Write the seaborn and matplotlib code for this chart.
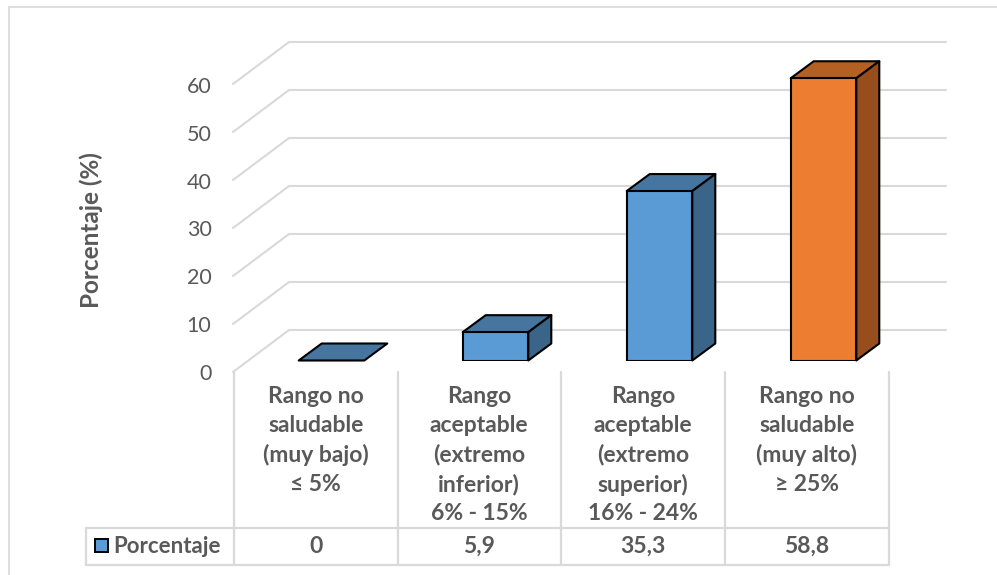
import matplotlib
matplotlib.use("Agg")
import matplotlib.pyplot as plt
import matplotlib.transforms as mtrans
from matplotlib.lines import Line2D
from matplotlib.patches import Polygon, Rectangle
import seaborn as sns

categories = [
    "Rango no\nsaludable\n(muy bajo)\n≤ 5%",
    "Rango\naceptable\n(extremo\ninferior)\n6% - 15%",
    "Rango\naceptable\n(extremo\nsuperior)\n16% - 24%",
    "Rango no\nsaludable\n(muy alto)\n≥ 25%",
]
values = [0, 5.9, 35.3, 58.8]
y_ticks = [0, 10, 20, 30, 40, 50, 60]
series_name = "Porcentaje"
y_title = "Porcentaje (%)"

W, H = 997, 575
TEXT = "#595959"
GRID = "#D9D9D9"
BLUE = ("#5B9BD5", "#46759F", "#3B6588")
ORANGE = ("#ED7D31", "#B46022", "#974E1C")
face_sets = [BLUE, BLUE, BLUE, ORANGE]

sns.set_theme(style="white")
plt.rcParams["font.family"] = ["Lato", "DejaVu Sans"]

fig = plt.figure(figsize=(W / 100, H / 100), dpi=100)
PX_PER_CAT, PX_PER_UNIT = 164.0, 4.8
ax_left, ax_right, ax_bottom, ax_top = 249.5, 905.5, 360.5, 40
ax = fig.add_axes([ax_left / W, 1 - ax_bottom / H, (ax_right - ax_left) / W, (ax_bottom - ax_top) / H])

sns.barplot(x=list(range(4)), y=values, hue=list(range(4)), palette=[f[0] for f in face_sets],
            legend=False, width=0.4, saturation=1, edgecolor="black", linewidth=1.5, ax=ax, zorder=3)
ax.set_xlim(-0.5, 3.5)
ax.set_ylim(0, (ax_bottom - ax_top) / PX_PER_UNIT)
sns.despine(ax=ax, left=True, bottom=True)
ax.patch.set_alpha(0)
ax.set_xlabel("")

# Oblique depth of the bars and of the floor, expressed in data units
dx, dy = 23 / PX_PER_CAT, 17 / PX_PER_UNIT
front_dx, front_dy = -16.5 / PX_PER_CAT, -11.5 / PX_PER_UNIT
back_dx, back_dy = 39.5 / PX_PER_CAT, 30.5 / PX_PER_UNIT
wall_end = 3.5 + 40.5 / PX_PER_CAT

# Receding gridlines: side wall then back wall
for v in y_ticks:
    ax.plot([-0.5 + front_dx, -0.5 + back_dx, wall_end],
            [v + front_dy, v + back_dy, v + back_dy],
            color=GRID, lw=1.5, clip_on=False, zorder=0.5, solid_joinstyle="miter")

# Top and side faces of each bar
for bar, faces in zip(ax.patches, face_sets):
    x0, w, h = bar.get_x(), bar.get_width(), bar.get_height()
    x1 = x0 + w
    top = [(x0, h), (x1, h), (x1 + dx, h + dy), (x0 + dx, h + dy)]
    ax.add_patch(Polygon(top, closed=True, facecolor=faces[1], edgecolor="black",
                         lw=1.5, zorder=3.5, clip_on=False, joinstyle="round"))
    if h > 0:
        side = [(x1, 0), (x1 + dx, dy), (x1 + dx, h + dy), (x1, h)]
        ax.add_patch(Polygon(side, closed=True, facecolor=faces[2], edgecolor="black",
                             lw=1.5, zorder=3.5, clip_on=False, joinstyle="round"))
    bar.set_zorder(4)

# Value axis labels sit on the front edge of the floor
ax.set_xticks([])
ax.set_yticks(y_ticks)
ax.tick_params(axis="y", length=0, labelsize=15.5, labelcolor=TEXT, pad=0)
shift = mtrans.ScaledTranslation(-38 / 100, -12 / 100, fig.dpi_scale_trans)
for lab in ax.get_yticklabels():
    lab.set_transform(lab.get_transform() + shift)
    lab.set_ha("right")


def fx(px):
    return px / W


def fy(px):
    return 1 - px / H


def hline(x0, x1, y, color=GRID, lw=1.6):
    fig.add_artist(Line2D([fx(x0), fx(x1)], [fy(y), fy(y)], color=color, lw=lw))


def vline(x, y0, y1, color=GRID, lw=1.6):
    fig.add_artist(Line2D([fx(x), fx(x)], [fy(y0), fy(y1)], color=color, lw=lw))


# Frame of the chart area
hline(9, W, 6.5, lw=1.2)
vline(9, 6.5, H, lw=1.2)

# Data table under the plot
col_edges = [234, 397.5, 561, 725, 889]
hline(86, 889, 527.5)
hline(86, 889, 564.5)
vline(86, 527.5, 564.5)
for x in col_edges:
    vline(x, 372, 564.5)

for i, (cat, val) in enumerate(zip(categories, values)):
    xc = (col_edges[i] + col_edges[i + 1]) / 2
    fig.text(fx(xc), fy(386), cat, ha="center", va="top", fontsize=16.5, fontweight="bold",
             color=TEXT, linespacing=1.45)
    fig.text(fx(xc), fy(546.5), f"{val:g}".replace(".", ","), ha="center", va="center",
             fontsize=16.5, fontweight="bold", color=TEXT)

fig.add_artist(Rectangle((fx(94.5), fy(552)), 13 / W, 13 / H, transform=fig.transFigure,
                         facecolor=BLUE[0], edgecolor="black", lw=1.4))
fig.text(fx(113), fy(546.5), series_name, ha="left", va="center", fontsize=16,
         fontweight="bold", color=TEXT)
fig.text(fx(91), fy(230), y_title, rotation=90, ha="center", va="center", fontsize=17.5,
         fontweight="bold", color=TEXT)

fig.savefig("out.png", dpi=100, facecolor="white")
